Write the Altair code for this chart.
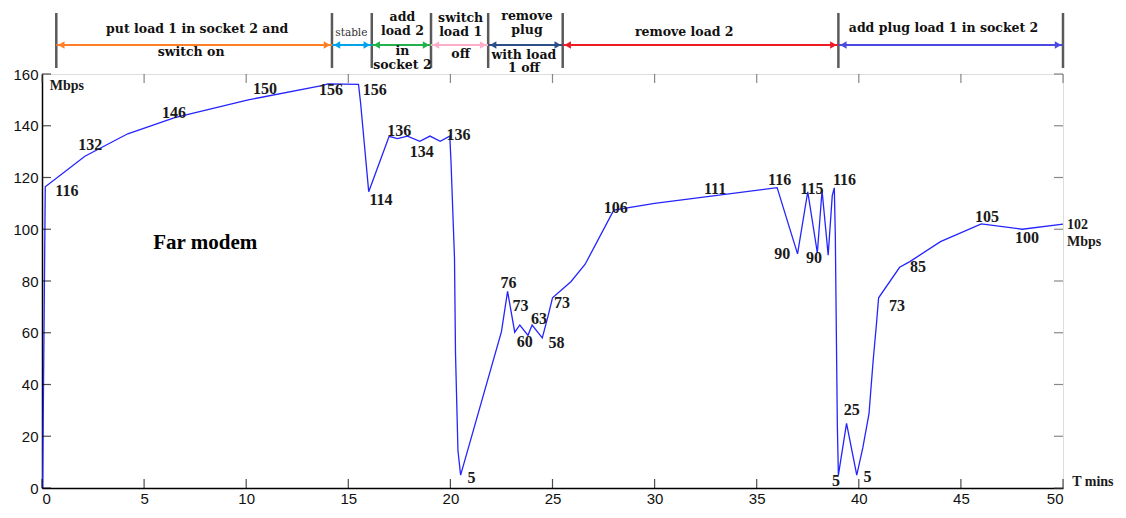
import altair as alt
import pandas as pd

# ---- main series (time in minutes, throughput in Mbps) ----
t_min = [0.03, 0.16, 2.1, 4.2, 6.5, 10.1, 13.7, 14.0, 15.5, 15.6, 16.0, 17.0, 17.4, 17.9,
         18.5, 19.0, 19.5, 19.97, 20.03, 20.2, 20.25, 20.37, 20.5, 22.5, 22.8, 23.15, 23.4,
         23.8, 24.0, 24.5, 24.8, 25.0, 25.9, 26.6, 28.0, 30.0, 36.0, 37.0, 37.5, 37.97,
         38.2, 38.5, 38.7, 38.8, 38.85, 38.9, 38.95, 39.0, 39.4, 39.9, 40.2, 40.5, 40.7,
         40.86, 40.97, 42.0, 42.5, 44.0, 46.0, 48.0, 50.0]
mbps = [0, 116.4, 128.2, 136.9, 143.1, 150, 155.5, 156.2, 156, 149, 114.5, 135.9, 135, 136,
        134, 136, 134, 136, 126, 89, 52, 14.5, 5, 60.4, 76, 60.2, 63, 59, 63, 58, 67, 73.5,
        79.7, 86.5, 107.4, 110, 116.1, 90.5, 114.5, 90.9, 115, 90, 113, 116, 97.7, 60.4,
        23.8, 5, 25, 5, 15.7, 28.7, 49, 63, 73.5, 85.3, 87.5, 95.2, 102.1, 100, 102]

# ---- value labels ----
lab_text = ["116", "132", "146", "150", "156", "156", "136", "134", "136", "114", "5",
            "76", "73", "60", "63", "58", "73", "106", "111", "116", "115", "116", "90",
            "90", "25", "5", "5", "73", "85", "105", "100"]
lab_x = [1.22, 2.36, 6.46, 10.92, 14.15, 16.3, 17.5, 18.6, 20.4, 16.6, 21.03,
         22.85, 23.43, 23.64, 24.34, 25.2, 25.47, 28.1, 32.96, 36.12, 37.7, 39.3, 36.25,
         37.8, 39.66, 38.88, 40.43, 41.87, 42.9, 46.28, 48.24]
lab_y = [114.8, 132.5, 145, 154.3, 153.7, 153.7, 138.1, 130, 136.3, 111.2, 3.8,
         79.3, 70.4, 56.4, 65.4, 56, 71.4, 108.2, 115.6, 119.1, 115.7, 118.9, 90.5,
         89, 30, 2.6, 4.1, 70.4, 85.5, 104.9, 96.7]

# left-aligned notes
note_text = ["Mbps", "102", "Mbps", "T mins"]
note_x = [0.38, 50.2, 50.2, 50.45]
note_y = [155.5, 101.5, 95.0, 2.5]

# ---- event phases on top ----
phase_bounds = [0.7, 14.2, 16.15, 19.05, 21.85, 25.5, 39.0, 50.0]
phase_colors = ["#ff7f27", "#00a2e8", "#22b14c", "#ffaec9", "#2b4f86", "#ed1c24", "#4a4ae0"]
# (text, x center in minutes, pixel offset above plot)
phase_lines = [
    ("put load 1 in socket 2 and", 7.6, -45), ("switch on", 7.3, -22),
    ("add", 17.65, -57), ("load 2", 17.65, -43), ("in", 17.65, -23), ("socket 2", 17.65, -9),
    ("switch", 20.5, -56), ("load 1", 20.5, -42), ("off", 20.5, -20),
    ("remove", 23.75, -58), ("plug", 23.75, -44), ("with load", 23.6, -19), ("1 off", 23.6, -6),
    ("remove load 2", 31.45, -42), ("add plug load 1 in socket 2", 44.15, -46),
]
stable_line = ("stable", 15.15, -41)

x_ticks = list(range(0, 51, 5))
y_ticks = list(range(0, 161, 20))

W, H = 1021, 414
xs = alt.Scale(domain=[0, 50], nice=False, zero=False)
ys = alt.Scale(domain=[0, 160], nice=False)

df = pd.DataFrame({"t": t_min, "v": mbps, "i": range(len(t_min))})
line = alt.Chart(df).mark_line(color="#2424ff", strokeWidth=1.3).encode(
    x=alt.X("t:Q", scale=xs, axis=alt.Axis(values=x_ticks, ticks=False, grid=False, title=None,
                                            domainColor="#000", domainWidth=1.5,
                                            labelFont="Liberation Sans", labelFontSize=15,
                                            labelColor="#111", labelPadding=3)),
    y=alt.Y("v:Q", scale=ys, axis=alt.Axis(values=y_ticks, ticks=False, grid=False, title=None,
                                            domainColor="#000", domainWidth=1.5,
                                            labelFont="Liberation Sans", labelFontSize=15,
                                            labelColor="#111", labelPadding=4)),
    order="i:Q",
)

labs = pd.DataFrame({"txt": lab_text, "x": lab_x, "y": lab_y})
labels = alt.Chart(labs).mark_text(font="Liberation Serif", fontWeight="bold", fontSize=16,
                                   color="#1a1a1a", baseline="middle", align="center").encode(
    x=alt.X("x:Q", scale=xs), y=alt.Y("y:Q", scale=ys), text="txt:N")

notes = pd.DataFrame({"txt": note_text, "x": note_x, "y": note_y})
notes_l = alt.Chart(notes).mark_text(font="Liberation Serif", fontWeight="bold", fontSize=14,
                                     color="#1a1a1a", baseline="middle", align="left").encode(
    x=alt.X("x:Q", scale=xs), y=alt.Y("y:Q", scale=ys), text="txt:N")

far = alt.Chart(pd.DataFrame({"txt": ["Far modem"], "x": [5.45], "y": [94.7]})).mark_text(
    font="Liberation Serif", fontWeight="bold", fontSize=21, color="#000",
    baseline="middle", align="left").encode(
    x=alt.X("x:Q", scale=xs), y=alt.Y("y:Q", scale=ys), text="txt:N")

# inward tick marks on all four sides
xt = pd.DataFrame({"x": x_ticks})
yt = pd.DataFrame({"y": y_ticks})
tick_b = alt.Chart(xt).mark_tick(size=9, thickness=1.2, color="#000", yOffset=-4.5).encode(
    x=alt.X("x:Q", scale=xs), y=alt.datum(0, scale=ys))
tick_t = alt.Chart(xt).mark_tick(size=9, thickness=1.2, color="#555", yOffset=4.5).encode(
    x=alt.X("x:Q", scale=xs), y=alt.datum(160, scale=ys))
tick_l = alt.Chart(yt).mark_tick(size=9, thickness=1.2, color="#000", xOffset=4.5,
                                 orient="horizontal").encode(
    y=alt.Y("y:Q", scale=ys), x=alt.datum(0, scale=xs))
tick_r = alt.Chart(yt).mark_tick(size=9, thickness=1.2, color="#555", xOffset=-4.5,
                                 orient="horizontal").encode(
    y=alt.Y("y:Q", scale=ys), x=alt.datum(50, scale=xs))

# phase separators and arrows
bnd = pd.DataFrame({"x": phase_bounds})
seps = alt.Chart(bnd).mark_rule(color="#5a5a5a", strokeWidth=2.5).encode(
    x=alt.X("x:Q", scale=xs), y=alt.value(-61), y2=alt.value(-6))

seg = pd.DataFrame({"a": phase_bounds[:-1], "b": phase_bounds[1:], "c": phase_colors})
arrows = alt.Chart(seg).mark_rule(strokeWidth=2).encode(
    x=alt.X("a:Q", scale=xs), x2="b:Q", y=alt.value(-29),
    color=alt.Color("c:N", scale=None))
head_l = alt.Chart(seg).mark_point(shape="triangle-left", filled=True, size=55, opacity=1,
                                   xOffset=5).encode(
    x=alt.X("a:Q", scale=xs), y=alt.value(-29), color=alt.Color("c:N", scale=None))
head_r = alt.Chart(seg).mark_point(shape="triangle-right", filled=True, size=55, opacity=1,
                                   xOffset=-5).encode(
    x=alt.X("b:Q", scale=xs), y=alt.value(-29), color=alt.Color("c:N", scale=None))

layers = [line, labels, notes_l, far, tick_b, tick_t, tick_l, tick_r, seps, arrows, head_l, head_r]
for txt, xc, yp in phase_lines:
    layers.append(alt.Chart(pd.DataFrame({"txt": [txt], "x": [xc]})).mark_text(
        font="DejaVu Serif", fontWeight="bold", fontSize=12.5, color="#111",
        baseline="middle", align="center").encode(
        x=alt.X("x:Q", scale=xs), y=alt.value(yp), text="txt:N"))
txt, xc, yp = stable_line
layers.append(alt.Chart(pd.DataFrame({"txt": [txt], "x": [xc]})).mark_text(
    font="DejaVu Serif", fontSize=10.5, color="#333",
    baseline="middle", align="center").encode(
    x=alt.X("x:Q", scale=xs), y=alt.value(yp), text="txt:N"))

chart = alt.layer(*layers).properties(
    width=W, height=H, padding={"left": 4, "top": 2, "right": 0, "bottom": 0}
).configure_view(stroke="#888", strokeWidth=1.5).configure(background="white")

chart.save("out.html", embed_options={"renderer": "svg", "actions": False})
